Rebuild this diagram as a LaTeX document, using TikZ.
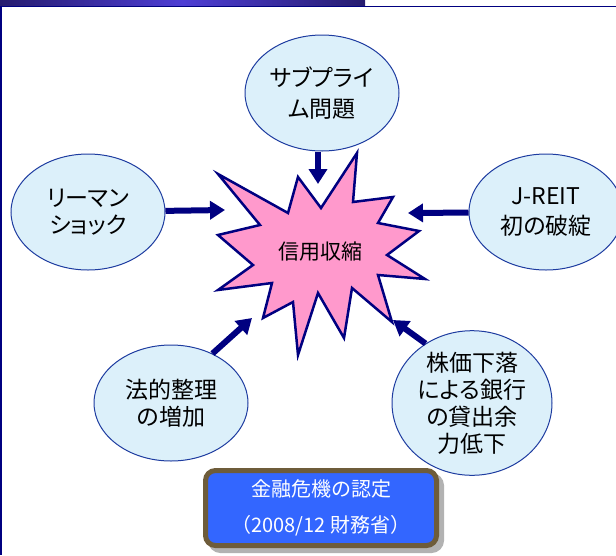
\documentclass[tikz,border=0pt]{standalone}
\usepackage{fontspec}
\setmainfont{Noto Sans CJK JP}
\newfontfamily\kanafont[RawFeature=+palt]{Noto Sans CJK JP}
\usepackage{xcolor}
\usepackage{tikz}
\usetikzlibrary{shapes.geometric, arrows.meta, positioning, calc, shadows}

\definecolor{navy}{RGB}{0,0,128}
\definecolor{rimblue}{RGB}{30,60,160}
\definecolor{paleblue}{RGB}{220,240,250}
\definecolor{burstpink}{RGB}{255,153,204}
\definecolor{boxblue}{RGB}{51,102,255}
\definecolor{boxbrown}{RGB}{110,92,58}
\definecolor{bardark}{RGB}{38,28,110}
\definecolor{barlight}{RGB}{78,62,212}

\begin{document}
\begin{tikzpicture}[x=1pt, y=-1pt,
    cause/.style={draw=rimblue, line width=1pt, fill=paleblue, ellipse, minimum width=154pt, minimum height=116pt, inner sep=0pt, align=center, font=\kanafont\fontsize{23}{27}\selectfont},
    flow/.style={draw=navy, line width=6pt, -{Triangle[length=15pt,width=18pt]}}
]
    \useasboundingbox (0,0) rectangle (616,555);
    \shade[left color=bardark, right color=bardark, middle color=barlight] (0,0) rectangle (365,6);
    \draw[navy, line width=1.5pt] (0,6.5) -- (616,6.5);
    \draw[navy, line width=2pt] (1,6) -- (1,555);

    \filldraw[fill=burstpink, draw=navy, line width=2.5pt]
        (218,174) -- (288,213) -- (298,177) -- (321,208) -- (357,153) -- (353,202)
        -- (393,197) -- (378,223) -- (419,231) -- (387,255) -- (425,279) -- (378,275)
        -- (392,322) -- (352,288) -- (344,338) -- (318,293) -- (298,355) -- (293,302)
        -- (263,318) -- (272,283) -- (218,290) -- (253,265) -- (218,235) -- (260,225) -- cycle;
    \node[font=\fontsize{21}{25}\selectfont] (crunch) at (320,252) {信用収縮};

    \node[cause, font=\kanafont\fontsize{23}{31}\selectfont] (subprime) at (322,93) {サブプライ\\ム問題};
    \node[cause] (lehman) at (88,212) {リーマン\\ショック};
    \node[cause, font=\kanafont\fontsize{23}{30}\selectfont] (jreit) at (546,212) {J-REIT\\初の破綻};
    \node[cause] (legal) at (171,403) {法的整理\\の増加};
    \node[cause, minimum width=160pt, minimum height=120pt] (stock) at (472,403) {株価下落\\による銀行\\の貸出余\\力低下};

    \coordinate (tipT) at (318,184);
    \coordinate (tipL) at (225,210);
    \coordinate (tipR) at (408,213);
    \coordinate (tipBL) at (252,318);
    \coordinate (tipBR) at (393,320);

    \draw[flow] (subprime.south -| tipT) -- (tipT);
    \draw[flow] (lehman) -- (tipL);
    \draw[flow] (jreit) -- (tipR);
    \draw[flow] (legal.50) -- (tipBL);
    \draw[flow] (stock.128) -- (tipBR);

    \node[draw=boxbrown, line width=5pt, fill=boxblue, rounded corners=10pt, minimum width=231pt, minimum height=75pt,
        align=center, text=white, font=\fontsize{20}{36}\selectfont,
        drop shadow={shadow xshift=5pt, shadow yshift=-5pt, fill=gray!60, draw=gray!60, line width=5pt, opacity=1}]
        (verdict) at (321,508) {金融危機の認定\\（2008/12 財務省）};
\end{tikzpicture}
\end{document}
